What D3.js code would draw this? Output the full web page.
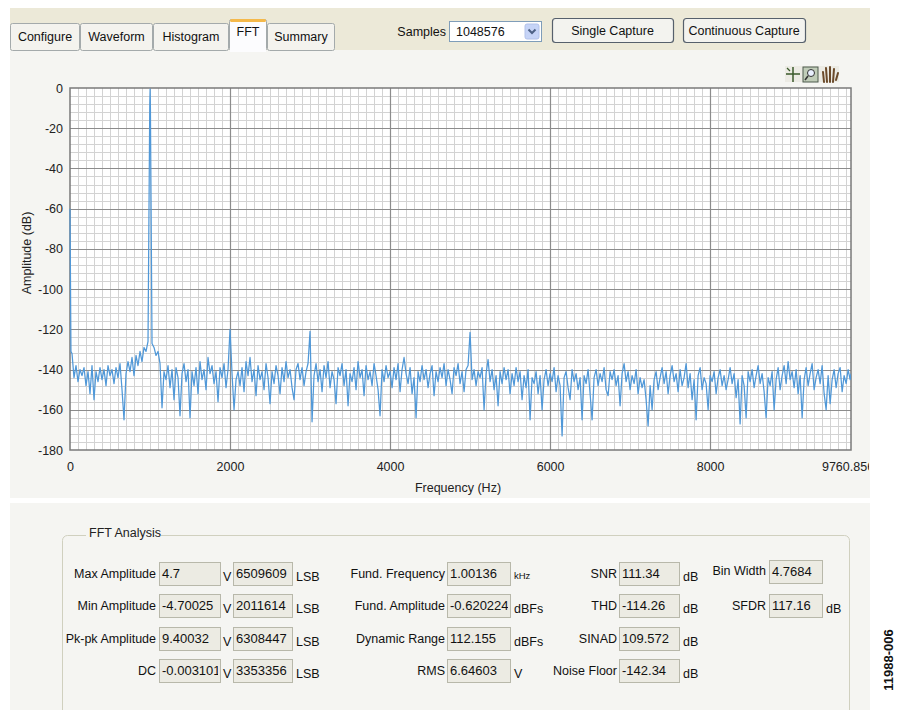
<!DOCTYPE html>
<html><head><meta charset="utf-8">
<script src="https://cdn.jsdelivr.net/npm/d3@7"></script>
<style>
body{margin:0;background:#fff;}
svg{display:block;font-family:"Liberation Sans",Arial,sans-serif;}
</style>
</head><body>
<svg id="c" width="900" height="710"></svg>
<script>
// ---------------- data ----------------
const freqMaxHz = 9760.8566;
const freqTicks = [0, 2000, 4000, 6000, 8000, 9760.8566];
const dbTicks = [0, -20, -40, -60, -80, -100, -120, -140, -160, -180];
const binWidthHz = 25; // spacing of the noise-floor readings below (25 Hz .. 9750 Hz)
const noiseDb = [
 -132,-144,-138,-146,-140,-143,-139,-148,-141,-152,-138,-155,-141,-146,-139,-145,-140,-148,-138,-143,
 -140,-147,-139,-144,-137,-150,-165,-142,-136,-141,-134,-143,-133,-138,-131,-136,-129,-131,-126,null,
 -127,-129,-133,-131,-137,-159,-141,-145,-138,-149,-140,-155,-139,-144,-163,-142,-137,-146,-140,-164,
 -141,-148,-139,-152,-136,-145,-140,-150,-134,-142,-138,-147,-141,-156,-139,-144,-137,-149,-140,null,
 -142,-160,-145,-141,-148,-139,-151,-136,-143,-134,-146,-140,-153,-138,-145,-141,-150,-137,-144,-157,
 -141,-147,-138,-143,-152,-139,-146,-136,-144,-140,-149,-155,-140,-137,-145,-139,-148,-141,-137,null,
 -166,-143,-137,-146,-140,-151,-138,-144,-136,-149,-141,-145,-157,-139,-143,-137,-148,-140,-158,-142,
 -146,-139,-150,-136,-144,-140,-153,-138,-145,-141,-148,-137,-143,-150,-163,-140,-146,-138,-144,-141,
 -149,-139,-145,-137,-151,-140,-134,-142,-147,-139,-152,-144,-164,-141,-146,-138,-145,-140,-149,-142,
 -138,-153,-141,-146,-139,-144,-137,-148,-140,-145,-152,-139,-143,-137,-147,-141,-151,-140,-138,null,
 -145,-140,-148,-141,-144,-139,-160,-142,-135,-146,-140,-150,-143,-158,-141,-147,-139,-145,-140,-152,
 -142,-148,-139,-146,-141,-155,-143,-149,-140,-165,-144,-147,-141,-152,-143,-160,-145,-140,-148,-142,
 -146,-139,-151,-143,-148,-173,-144,-141,-149,-155,-140,-146,-142,-150,-144,-165,-143,-147,-140,-152,
 -165,-144,-140,-148,-142,-146,-139,-150,-153,-141,-145,-140,-148,-143,-158,-142,-137,-146,-141,-150,
 -143,-147,-140,-152,-144,-149,-145,-155,-168,-148,-160,-145,-141,-150,-144,-139,-147,-141,-152,-143,
 -138,-146,-142,-151,-140,-148,-144,-137,-149,-142,-155,-145,-165,-143,-139,-150,-144,-147,-160,-143,
 -146,-141,-152,-144,-140,-148,-143,-150,-145,-139,-147,-142,-154,-145,-167,-143,-148,-164,-141,-146,
 -140,-149,-143,-138,-147,-142,-151,-164,-144,-148,-141,-160,-145,-139,-150,-143,-138,-147,-136,-145,
 -141,-149,-140,-152,-143,-164,-145,-139,-148,-142,-137,-150,-144,-140,-147,-138,-152,-160,-143,-157,
 -145,-140,-149,-142,-139,-151,-143,-147,-140,-145
];
// DC, fundamental, harmonics/spurs and the last bin
const spurFreqHz = [0, 12, 997, 1001.36, 1005, 2000, 3000, 5000, 9760.8566];
const spurDb     = [-60, -131, -8, -0.62, -10, -120, -121, -121.5, -142];

const tabNames = ["Configure", "Waveform", "Histogram", "FFT", "Summary"];
const samplesValue = "1048576";

const analysisRows = [
  {label:"Max Amplitude",   v1:"4.7",       u1:"V", v2:"6509609", u2:"LSB", l3:"Fund. Frequency", v3:"1.00136", u3:"kHz",  l4:"SNR",         v4:"111.34",  u4:"dB", l5:"Bin Width", v5:"4.7684", u5:""},
  {label:"Min Amplitude",   v1:"-4.70025",  u1:"V", v2:"2011614", u2:"LSB", l3:"Fund. Amplitude", v3:"-0.620224", u3:"dBFs", l4:"THD",         v4:"-114.26", u4:"dB", l5:"SFDR",      v5:"117.16", u5:"dB"},
  {label:"Pk-pk Amplitude", v1:"9.40032",   u1:"V", v2:"6308447", u2:"LSB", l3:"Dynamic Range",   v3:"112.155", u3:"dBFs", l4:"SINAD",       v4:"109.572", u4:"dB", l5:null},
  {label:"DC",              v1:"-0.003101", u1:"V", v2:"3353356", u2:"LSB", l3:"RMS",             v3:"6.64603", u3:"V",    l4:"Noise Floor", v4:"-142.34", u4:"dB", l5:null}
];

// ---------------- drawing ----------------
const svg = d3.select("#c");
const defs = svg.append("defs");

// backgrounds
svg.append("rect").attr("x",0).attr("y",0).attr("width",900).attr("height",710).attr("fill","#ffffff");
svg.append("rect").attr("x",10).attr("y",8).attr("width",860).attr("height",42).attr("fill","#ece9d8");
svg.append("rect").attr("x",10).attr("y",50).attr("width",860).attr("height",448).attr("fill","#f5f5f2");
svg.append("rect").attr("x",10).attr("y",503).attr("width",860).attr("height",207).attr("fill","#f5f5f2");

// tabs
const tabEdges = [10, 80, 153, 229, 267, 335];
const tabG = svg.append("g");
tabNames.forEach((t,i)=>{
  const x0 = tabEdges[i], x1 = tabEdges[i+1];
  const sel = t === "FFT";
  const top = sel ? 19 : 23;
  tabG.append("rect").attr("x",x0+0.5).attr("y",top+0.5).attr("width",x1-x0-1).attr("height",50-top)
    .attr("rx",2).attr("fill", sel ? "#fcfcfe" : "#f4f3ee").attr("stroke","#a4aaab");
  if (sel) {
    tabG.append("rect").attr("x",x0+1).attr("y",top).attr("width",x1-x0-2).attr("height",3)
      .attr("rx",1.5).attr("fill","#f5b94a");
    tabG.append("rect").attr("x",x0+1).attr("y",48).attr("width",x1-x0-2).attr("height",4).attr("fill","#fcfcfe");
  }
  tabG.append("text").attr("x",(x0+x1)/2).attr("y",sel?36:41).attr("text-anchor","middle")
    .attr("font-size",12.5).attr("fill","#111").text(t);
});

// samples + buttons
svg.append("text").attr("x",446).attr("y",36).attr("text-anchor","end").attr("font-size",12.5).attr("fill","#111").text("Samples");
svg.append("rect").attr("x",449.5).attr("y",21.5).attr("width",92).attr("height",20).attr("fill","#fff").attr("stroke","#7f9db9");
svg.append("text").attr("x",456).attr("y",36).attr("font-size",12.5).attr("fill","#111").text(samplesValue);
svg.append("rect").attr("x",525).attr("y",24).attr("width",14).attr("height",15).attr("rx",2).attr("fill","#c6d4f7").attr("stroke","#b2c2ea");
svg.append("path").attr("d","M528.5,29.5 L532,33 L535.5,29.5").attr("fill","none").attr("stroke","#4d6185").attr("stroke-width",2);

function button(x,w,label){
  svg.append("rect").attr("x",x+0.5).attr("y",18.5).attr("width",w).attr("height",24).attr("rx",3)
    .attr("fill","#f3f3ef").attr("stroke","#56606c").attr("stroke-width",1.2);
  svg.append("text").attr("x",x+w/2).attr("y",35).attr("text-anchor","middle").attr("font-size",12.5).attr("fill","#111").text(label);
}
button(552,121,"Single Capture");
button(683,122,"Continuous Capture");

// toolbar icons
const ic = svg.append("g");
ic.append("rect").attr("x",785).attr("y",66).attr("width",54).attr("height",16).attr("fill","#ecebe4");
ic.append("path").attr("d","M793,67 V82 M786,74 H800").attr("stroke","#3a5a2a").attr("stroke-width",1.5);
ic.append("path").attr("d","M787,68 L790,71").attr("stroke","#3a5a2a").attr("stroke-width",1.3);
ic.append("rect").attr("x",803).attr("y",67).attr("width",15).attr("height",15).attr("fill","#c0ccb8").attr("stroke","#4d5a4d");
ic.append("circle").attr("cx",811).attr("cy",73).attr("r",3.5).attr("fill","#eaf0ff").attr("stroke","#333");
ic.append("path").attr("d","M808,76 L805,80").attr("stroke","#333").attr("stroke-width",1.6);
ic.append("path").attr("d","M824,82 L823,72 M827,82 L826,68 M830,82 L830,67 M833,82 L834,69 M836,80 L838,73")
  .attr("stroke","#6b4a2a").attr("stroke-width",2).attr("stroke-linecap","round");

// plot
const X0 = 70, X1 = 851, Y0 = 88, Y1 = 450;
const x = d3.scaleLinear().domain([0, freqMaxHz]).range([X0, X1]);
const y = d3.scaleLinear().domain([0, -180]).range([Y0, Y1]);

svg.append("rect").attr("x",X0).attr("y",Y0).attr("width",X1-X0).attr("height",Y1-Y0).attr("fill","#ffffff");

const grid = svg.append("g");
const minorX = d3.range(100, freqMaxHz, 100).filter(f => f % 2000 !== 0);
const minorY = d3.range(-4, -180, -4).filter(v => v % 20 !== 0);
grid.selectAll(".mx").data(minorX).join("line")
  .attr("x1",d=>Math.round(x(d))+0.5).attr("x2",d=>Math.round(x(d))+0.5).attr("y1",Y0).attr("y2",Y1)
  .attr("stroke","#d3d3d3").attr("stroke-width",1);
grid.selectAll(".my").data(minorY).join("line")
  .attr("y1",d=>Math.round(y(d))+0.5).attr("y2",d=>Math.round(y(d))+0.5).attr("x1",X0).attr("x2",X1)
  .attr("stroke","#d3d3d3").attr("stroke-width",1);
grid.selectAll(".Mx").data([2000,4000,6000,8000]).join("line")
  .attr("x1",d=>Math.round(x(d))+0.5).attr("x2",d=>Math.round(x(d))+0.5).attr("y1",Y0).attr("y2",Y1)
  .attr("stroke","#8c8c8c").attr("stroke-width",1.2);
grid.selectAll(".My").data(dbTicks.slice(1,-1)).join("line")
  .attr("y1",d=>Math.round(y(d))+0.5).attr("y2",d=>Math.round(y(d))+0.5).attr("x1",X0).attr("x2",X1)
  .attr("stroke","#8c8c8c").attr("stroke-width",1.2);

svg.append("rect").attr("x",X0).attr("y",Y0).attr("width",X1-X0).attr("height",Y1-Y0)
  .attr("fill","none").attr("stroke","#7a7a7a").attr("stroke-width",1.5);

// trace (drawn over the frame, as in the reference)
defs.append("clipPath").attr("id","plotClip").append("rect")
  .attr("x",X0-1).attr("y",Y0-1).attr("width",X1-X0+1).attr("height",Y1-Y0+1);
const pts = noiseDb.map((d,i)=>({f:(i+1)*binWidthHz, db:d})).filter(p=>p.db!==null)
  .concat(spurFreqHz.map((f,i)=>({f:f, db:spurDb[i]})))
  .sort((a,b)=>a.f-b.f);
const line = d3.line().x(d=>x(d.f)).y(d=>y(d.db));
svg.append("path").datum(pts).attr("clip-path","url(#plotClip)")
  .attr("d",line).attr("fill","none").attr("stroke","#5098d8").attr("stroke-width",1.25).attr("stroke-linejoin","round");

// axes
defs.append("clipPath").attr("id","panelClip").append("rect").attr("x",0).attr("y",0).attr("width",869).attr("height",710);
const xAx = svg.append("g").attr("transform",`translate(0,${Y1+6})`).attr("clip-path","url(#panelClip)")
  .call(d3.axisBottom(x).tickValues(freqTicks).tickSize(0).tickPadding(6)
    .tickFormat(d => d === freqMaxHz ? "9760.8566" : String(d)));
xAx.select(".domain").remove();
xAx.selectAll("text").attr("font-size",12.5).attr("fill","#222").attr("font-family",'"Liberation Sans",Arial,sans-serif');

const yAx = svg.append("g").attr("transform",`translate(${X0-7},0)`)
  .call(d3.axisLeft(y).tickValues(dbTicks).tickSize(0).tickPadding(0).tickFormat(d=>String(d)));
yAx.select(".domain").remove();
yAx.selectAll("text").attr("font-size",12.5).attr("fill","#222").attr("font-family",'"Liberation Sans",Arial,sans-serif');

svg.append("text").attr("x",458).attr("y",492).attr("text-anchor","middle").attr("font-size",12.5).attr("fill","#222").text("Frequency (Hz)");
svg.append("text").attr("transform","translate(31,253) rotate(-90)").attr("text-anchor","middle")
  .attr("font-size",12.5).attr("fill","#222").text("Amplitude (dB)");

// FFT analysis group box
svg.append("rect").attr("x",62.5).attr("y",535.5).attr("width",787).attr("height",200).attr("rx",5)
  .attr("fill","none").attr("stroke","#d0d0bf");
svg.append("rect").attr("x",86).attr("y",526).attr("width",75).attr("height",14).attr("fill","#f5f5f2");
svg.append("text").attr("x",89).attr("y",537).attr("font-size",12.5).attr("fill","#222").text("FFT Analysis");

const rowTops = [562, 594, 627, 659];
let clipId = 0;
function field(xb, w, top, val){
  const id = "fc" + (clipId++);
  defs.append("clipPath").attr("id",id).append("rect").attr("x",xb+1).attr("y",top).attr("width",w-3).attr("height",23);
  svg.append("rect").attr("x",xb+0.5).attr("y",top+0.5).attr("width",w).attr("height",23)
    .attr("fill","#ecebe3").attr("stroke","#b8b8aa");
  svg.append("text").attr("x",xb+3).attr("y",top+16).attr("font-size",13).attr("fill","#111")
    .attr("clip-path",`url(#${id})`).text(val);
}
function label(xr, top, t){
  svg.append("text").attr("x",xr).attr("y",top+16).attr("text-anchor","end").attr("font-size",12.5).attr("fill","#111").text(t);
}
function unit(xl, top, t, small){
  svg.append("text").attr("x",xl).attr("y",top+(small?17:19)).attr("font-size",small?9.5:12.5).attr("fill","#111").text(t);
}
analysisRows.forEach((r,i)=>{
  const t = rowTops[i];
  label(156, t, r.label);
  field(159, 61, t, r.v1);
  unit(223, t, r.u1);
  field(233, 59, t, r.v2);
  unit(296, t, r.u2);
  label(445, t, r.l3);
  field(447, 63, t, r.v3);
  unit(514, t, r.u3, r.u3 === "kHz");
  label(617, t, r.l4);
  field(619, 60, t, r.v4);
  unit(683, t, r.u4);
  if (r.l5) {
    label(766, t - (i===0?3:0), r.l5);
    field(769, 53, t - (i===0?2:0), r.v5);
    if (r.u5) unit(826, t, r.u5);
  }
});

// figure number
svg.append("text").attr("transform","translate(893,660) rotate(-90)").attr("text-anchor","middle")
  .attr("font-size",13).attr("font-weight","bold").attr("fill","#111").text("11988-006");
</script>
</body></html>
